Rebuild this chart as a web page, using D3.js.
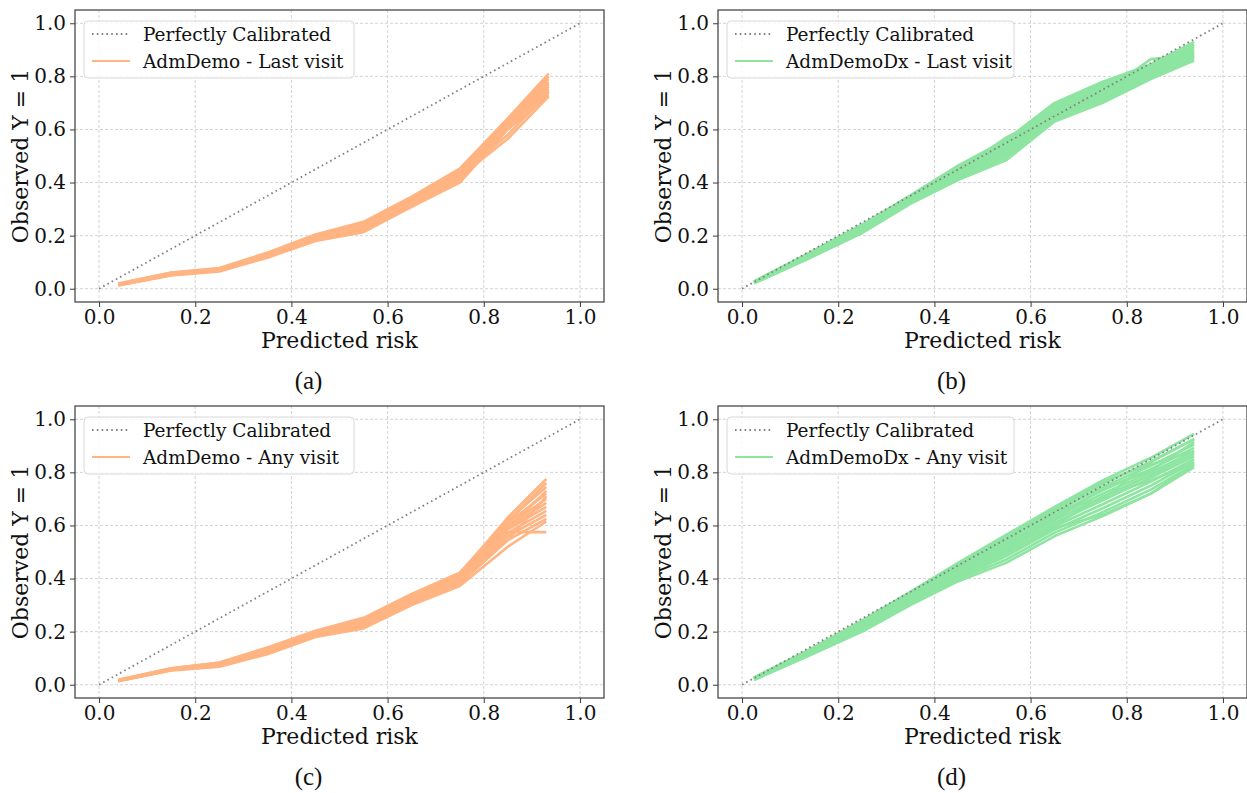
<!DOCTYPE html>
<html>
<head>
<meta charset="utf-8">
<script src="https://cdn.jsdelivr.net/npm/d3@7"></script>
<style>
  body { margin: 0; background: #fff; }
  svg { display: block; }
  text { font-family: "DejaVu Serif", serif; fill: #111; }
</style>
</head>
<body>
<svg id="chart" width="1247" height="793"></svg>
<script>
// calibration curves (bootstrap resamples, one row per curve)
const ticks = [0, 0.2, 0.4, 0.6, 0.8, 1.0]
const diagonal = [0, 1]

const xA = [0.04, 0.15, 0.25, 0.35, 0.45, 0.55, 0.65, 0.75, 0.85, 0.935]
const curvesA = [
  [0.012, 0.050, 0.065, 0.117, 0.180, 0.213, 0.308, 0.400, 0.600, 0.730],
  [0.013, 0.052, 0.067, 0.120, 0.184, 0.220, 0.316, 0.410, 0.610, 0.745],
  [0.014, 0.053, 0.069, 0.123, 0.187, 0.226, 0.322, 0.418, 0.618, 0.752],
  [0.015, 0.055, 0.070, 0.125, 0.190, 0.230, 0.326, 0.424, 0.622, 0.762],
  [0.016, 0.056, 0.072, 0.128, 0.193, 0.234, 0.331, 0.430, 0.627, 0.770],
  [0.017, 0.057, 0.073, 0.130, 0.196, 0.238, 0.335, 0.436, 0.632, 0.778],
  [0.018, 0.058, 0.075, 0.132, 0.199, 0.243, 0.339, 0.442, 0.636, 0.790],
  [0.019, 0.060, 0.076, 0.134, 0.202, 0.248, 0.344, 0.448, 0.640, 0.800],
  [0.020, 0.061, 0.078, 0.136, 0.204, 0.252, 0.347, 0.452, 0.642, 0.810],
  [0.015, 0.054, 0.070, 0.124, 0.189, 0.229, 0.324, 0.421, 0.565, 0.725],
  [0.016, 0.055, 0.071, 0.127, 0.192, 0.232, 0.329, 0.427, 0.580, 0.740]
]

const xB = [0.025, 0.14, 0.25, 0.35, 0.45, 0.55, 0.65, 0.75, 0.85, 0.94]
const curvesB = [
  [0.020, 0.115, 0.210, 0.320, 0.410, 0.485, 0.630, 0.700, 0.790, 0.860],
  [0.021, 0.117, 0.214, 0.324, 0.417, 0.495, 0.638, 0.709, 0.797, 0.866],
  [0.022, 0.119, 0.218, 0.328, 0.423, 0.503, 0.645, 0.717, 0.803, 0.872],
  [0.023, 0.121, 0.221, 0.331, 0.429, 0.511, 0.652, 0.725, 0.809, 0.878],
  [0.024, 0.123, 0.225, 0.335, 0.435, 0.519, 0.659, 0.733, 0.815, 0.884],
  [0.024, 0.125, 0.228, 0.338, 0.441, 0.527, 0.666, 0.741, 0.821, 0.890],
  [0.025, 0.127, 0.231, 0.341, 0.447, 0.535, 0.673, 0.749, 0.827, 0.897],
  [0.026, 0.129, 0.234, 0.344, 0.452, 0.542, 0.680, 0.757, 0.832, 0.904],
  [0.027, 0.131, 0.237, 0.347, 0.457, 0.549, 0.687, 0.765, 0.837, 0.912],
  [0.028, 0.133, 0.240, 0.350, 0.462, 0.556, 0.694, 0.773, 0.842, 0.920],
  [0.028, 0.135, 0.242, 0.352, 0.465, 0.562, 0.700, 0.780, 0.845, 0.930],
  [0.023, 0.122, 0.225, 0.335, 0.445, 0.570, 0.660, 0.735, 0.865, 0.880]
]

const xC = [0.04, 0.15, 0.25, 0.35, 0.45, 0.55, 0.65, 0.75, 0.85, 0.93]
const curvesC = [
  [0.013, 0.054, 0.068, 0.115, 0.180, 0.212, 0.300, 0.372, 0.520, 0.615],
  [0.014, 0.055, 0.070, 0.119, 0.183, 0.218, 0.307, 0.380, 0.545, 0.625],
  [0.015, 0.056, 0.072, 0.122, 0.186, 0.223, 0.312, 0.386, 0.560, 0.640],
  [0.015, 0.057, 0.074, 0.125, 0.189, 0.228, 0.317, 0.392, 0.572, 0.655],
  [0.016, 0.058, 0.076, 0.128, 0.192, 0.233, 0.322, 0.398, 0.585, 0.670],
  [0.016, 0.059, 0.078, 0.131, 0.195, 0.237, 0.327, 0.404, 0.593, 0.685],
  [0.017, 0.060, 0.080, 0.134, 0.197, 0.241, 0.331, 0.409, 0.600, 0.700],
  [0.018, 0.061, 0.082, 0.137, 0.200, 0.246, 0.336, 0.415, 0.610, 0.720],
  [0.019, 0.062, 0.084, 0.140, 0.203, 0.252, 0.342, 0.422, 0.620, 0.745],
  [0.018, 0.061, 0.083, 0.138, 0.201, 0.248, 0.339, 0.418, 0.630, 0.775],
  [0.015, 0.057, 0.074, 0.125, 0.190, 0.228, 0.318, 0.390, 0.575, 0.575],
  [0.016, 0.057, 0.074, 0.126, 0.190, 0.230, 0.320, 0.390, 0.545, 0.710],
  [0.017, 0.059, 0.078, 0.130, 0.194, 0.236, 0.326, 0.402, 0.615, 0.760],
  [0.016, 0.058, 0.076, 0.129, 0.193, 0.234, 0.324, 0.400, 0.590, 0.730]
]

const xD = [0.025, 0.14, 0.25, 0.35, 0.45, 0.55, 0.65, 0.75, 0.85, 0.94]
const curvesD = [
  [0.018, 0.110, 0.200, 0.300, 0.390, 0.460, 0.560, 0.635, 0.720, 0.820],
  [0.019, 0.112, 0.205, 0.306, 0.398, 0.472, 0.573, 0.650, 0.735, 0.830],
  [0.020, 0.115, 0.210, 0.312, 0.405, 0.485, 0.585, 0.665, 0.750, 0.840],
  [0.021, 0.117, 0.214, 0.317, 0.412, 0.495, 0.597, 0.680, 0.765, 0.850],
  [0.022, 0.120, 0.218, 0.322, 0.420, 0.505, 0.610, 0.695, 0.780, 0.860],
  [0.023, 0.122, 0.222, 0.327, 0.426, 0.515, 0.620, 0.708, 0.790, 0.870],
  [0.024, 0.124, 0.226, 0.332, 0.432, 0.525, 0.630, 0.720, 0.800, 0.880],
  [0.025, 0.126, 0.230, 0.336, 0.438, 0.535, 0.640, 0.732, 0.812, 0.892],
  [0.026, 0.128, 0.234, 0.340, 0.445, 0.545, 0.650, 0.745, 0.825, 0.905],
  [0.027, 0.130, 0.238, 0.345, 0.452, 0.555, 0.660, 0.757, 0.840, 0.925],
  [0.028, 0.132, 0.242, 0.350, 0.460, 0.565, 0.670, 0.770, 0.855, 0.945],
  [0.021, 0.118, 0.215, 0.318, 0.412, 0.520, 0.600, 0.710, 0.770, 0.835],
  [0.025, 0.126, 0.230, 0.336, 0.440, 0.500, 0.655, 0.700, 0.840, 0.925],
  [0.022, 0.119, 0.217, 0.320, 0.415, 0.498, 0.590, 0.640, 0.720, 0.830],
  [0.026, 0.127, 0.236, 0.343, 0.450, 0.560, 0.665, 0.765, 0.830, 0.880],
  [0.024, 0.123, 0.224, 0.329, 0.430, 0.530, 0.625, 0.740, 0.805, 0.915]
]

const orange = "#ffb482", green = "#8de5a1"

const panels = [
  { x: xA, curves: curvesA, color: orange, label: "AdmDemo - Last visit", caption: "(a)", left: 75, top: 10 },
  { x: xB, curves: curvesB, color: green, label: "AdmDemoDx - Last visit", caption: "(b)", left: 718, top: 10 },
  { x: xC, curves: curvesC, color: orange, label: "AdmDemo - Any visit", caption: "(c)", left: 75, top: 406 },
  { x: xD, curves: curvesD, color: green, label: "AdmDemoDx - Any visit", caption: "(d)", left: 718, top: 406 }
]

const w = 529, h = 292

var svg = d3.select("#chart")

panels.forEach((p) => {
  var g = svg.append("g").attr("transform", "translate(" + p.left + "," + p.top + ")")

  var x = d3.scaleLinear().domain([-0.05, 1.05]).range([0, w])
  var y = d3.scaleLinear().domain([-0.05, 1.05]).range([h, 0])

  // grid
  g.append("g").selectAll("line.vg")
    .data(ticks).enter().append("line")
      .attr("x1", (d) => x(d)).attr("x2", (d) => x(d))
      .attr("y1", 0).attr("y2", h)
      .attr("stroke", "#c8c8c8").attr("stroke-width", 0.8)
      .attr("stroke-dasharray", "3,2")
  g.append("g").selectAll("line.hg")
    .data(ticks).enter().append("line")
      .attr("y1", (d) => y(d)).attr("y2", (d) => y(d))
      .attr("x1", 0).attr("x2", w)
      .attr("stroke", "#c8c8c8").attr("stroke-width", 0.8)
      .attr("stroke-dasharray", "3,2")

  // perfectly calibrated
  var diag = g.append("line")
    .attr("x1", x(diagonal[0])).attr("y1", y(diagonal[0]))
    .attr("x2", x(diagonal[1])).attr("y2", y(diagonal[1]))
    .attr("stroke", "#808080").attr("stroke-width", 1.8)
    .attr("stroke-dasharray", "1.6,3.2")

  var line = d3.line()
    .x((d, i) => x(p.x[i]))
    .y((d) => y(d))

  g.append("g").selectAll("path")
    .data(p.curves).enter().append("path")
      .attr("d", line)
      .attr("fill", "none")
      .attr("stroke", p.color)
      .attr("stroke-width", 2.6)
      .attr("stroke-linejoin", "round")

  diag.raise()

  // frame
  g.append("rect")
    .attr("width", w).attr("height", h)
    .attr("fill", "none").attr("stroke", "#3a3a3a").attr("stroke-width", 1.2)

  var xAxis = g.append("g")
    .attr("transform", "translate(0," + h + ")")
    .call(d3.axisBottom(x).tickValues(ticks).tickFormat(d3.format(".1f")).tickSize(5).tickPadding(3))
  var yAxis = g.append("g")
    .call(d3.axisLeft(y).tickValues(ticks).tickFormat(d3.format(".1f")).tickSize(5).tickPadding(4))
  ;[xAxis, yAxis].forEach((a) => {
    a.select(".domain").remove()
    a.selectAll(".tick line").attr("stroke", "#3a3a3a")
    a.selectAll("text")
      .style("font-family", "DejaVu Serif").style("font-size", "20px").attr("fill", "#111")
  })

  g.append("text")
    .attr("x", w / 2).attr("y", h + 46)
    .attr("text-anchor", "middle")
    .style("font-size", "22px")
    .text("Predicted risk")

  g.append("text")
    .attr("transform", "translate(-47," + (h / 2) + ") rotate(-90)")
    .attr("text-anchor", "middle")
    .style("font-size", "22px")
    .text("Observed Y = 1")

  g.append("text")
    .attr("x", w / 2 - 31).attr("y", h + 87)
    .attr("text-anchor", "middle")
    .style("font-family", "Liberation Serif")
    .style("font-size", "25px")
    .text(p.caption)

  // legend
  var legend = g.append("g").attr("transform", "translate(9,11)")
  var lw = p.color == green ? 287 : 270
  legend.append("rect")
    .attr("width", lw).attr("height", 57).attr("rx", 4)
    .attr("fill", "#fff").attr("fill-opacity", 0.8)
    .attr("stroke", "#d8d8d8")
  legend.append("line")
    .attr("x1", 8).attr("x2", 46).attr("y1", 13).attr("y2", 13)
    .attr("stroke", "#808080").attr("stroke-width", 1.8)
    .attr("stroke-dasharray", "1.6,3.2")
  legend.append("line")
    .attr("x1", 8).attr("x2", 46).attr("y1", 40).attr("y2", 40)
    .attr("stroke", p.color).attr("stroke-width", 2.2)
  legend.append("text")
    .attr("x", 59).attr("y", 19.5)
    .style("font-size", "18.5px")
    .text("Perfectly Calibrated")
  legend.append("text")
    .attr("x", 59).attr("y", 46.5)
    .style("font-size", "18.5px")
    .text(p.label)
})
</script>
</body>
</html>
